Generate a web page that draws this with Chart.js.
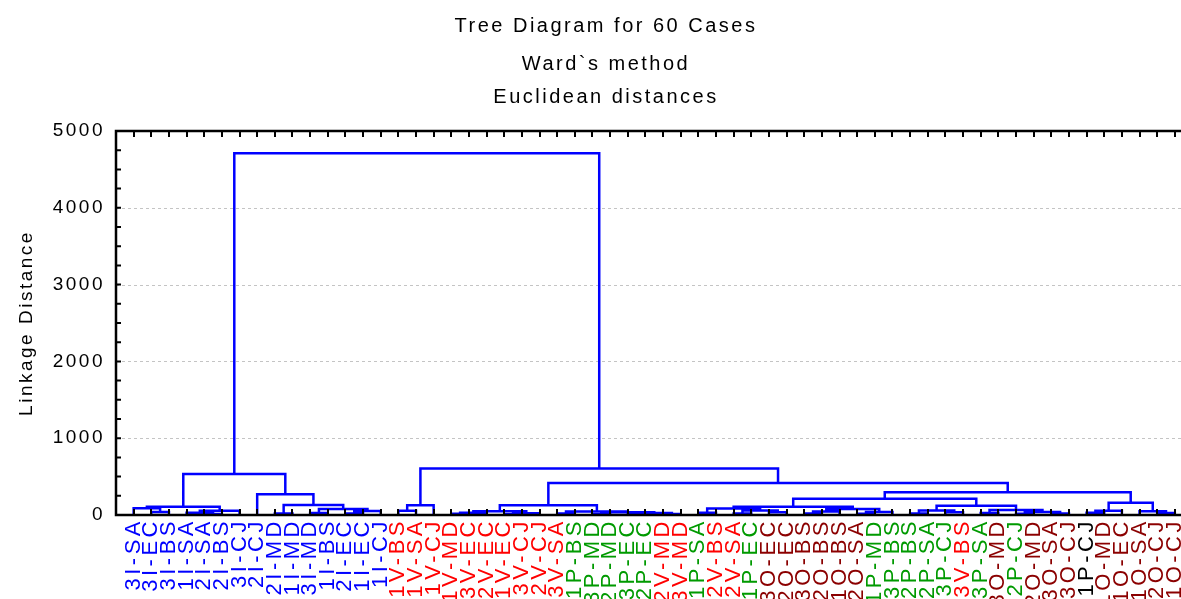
<!DOCTYPE html>
<html><head><meta charset="utf-8">
<script src="https://cdn.jsdelivr.net/npm/chart.js@4.4.0/dist/chart.umd.min.js"></script>
<style>html,body{margin:0;padding:0;background:#fff;overflow:hidden}</style>
</head><body>
<canvas id="c" width="1181" height="599"></canvas>
<script>
// ---- data ----
const titleLines = ["Tree Diagram for 60 Cases", "Ward`s method", "Euclidean distances"];
const yAxisTitle = "Linkage Distance";
const yTickValues = [0, 1000, 2000, 3000, 4000, 5000];

// leaves in dendrogram order (left to right)
const leafLabels = [
  "3I-SA","3I-EC","3I-BS","1I-SA","2I-SA","2I-BS","3I-CJ","2I-CJ","2I-MD","1I-MD",
  "3I-MD","1I-BS","2I-EC","1I-EC","1I-CJ","1V-BS","1V-SA","1V-CJ","1V-MD","3V-EC",
  "2V-EC","1V-EC","3V-CJ","2V-CJ","3V-SA","1P-BS","3P-MD","2P-MD","3P-EC","2P-EC",
  "2V-MD","3V-MD","1P-SA","2V-BS","2V-SA","1P-EC","3O-EC","2O-EC","3O-BS","2O-BS",
  "1O-BS","2O-SA","1P-MD","3P-BS","2P-BS","2P-SA","3P-CJ","3V-BS","3P-SA","3O-MD",
  "2P-CJ","2O-MD","3O-SA","3O-CJ","1P-CJ","1O-MD","1O-EC","1O-SA","2O-CJ","1O-CJ"
];
// label colour group per leaf: I = blue, V = red, P = green, O = dark red, K = black
const leafGroups = [
  "I","I","I","I","I","I","I","I","I","I","I","I","I","I","I",
  "V","V","V","V","V","V","V","V","V","V",
  "P","P","P","P","P",
  "V","V","P","V","V","P",
  "O","O","O","O","O","O",
  "P","P","P","P","P","V","P","O","P","O","O","O","K","O","O","O","O","O"
];
// merge table (R hclust convention): negative = leaf number (display order),
// positive = row number of an earlier merge
const mergeLeft = [
  -2, -1, -5, -4,  4,  2, -9, -11, -13,  9,
   8,  7, -8, 6, -16, 15, -19, 17, -22, 19,
  18, -25, -27, -29, -31, 24, 23, 22, 21, -33,
  -35, -37, 31, 30, -39, 35, -42, 37, 36, 34,
  -45, -47, 41, -49, -51, -53, 45, 44, 43, 40,
  -55, 51, -59, -58, 52, 50, 29, 16, 14
];
const mergeRight = [
  -3,  1, -6,  3, -7,  5, -10, -12, -14, -15,
  10, 11, 12, 13, -17, -18, -20, -21, -23, -24,
  20, -26, -28, -30, -32, 25, 26, 27, 28, -34,
  -36, -38, 32, 33, -40, -41, -43, -44, 38, 39,
  -46, -48, 42, -50, -52, -54, 46, 47, 48, 49,
  -56, -57, -60, 53, 54, 55, 56, 57, 58
];
const mergeHeight = [
   40,  87,  12,  30,  55, 108,  18,  25,  20,  52,
   78, 130, 269, 534,  55, 126,  15,  30,  10,  22,
   50,  20,  10,   8,  12,  25,  35,  45, 126,  30,
   20,  35,  60,  85,  20,  45,  15,  40,  78, 108,
   20,  35,  60,  25,  15,  20,  40,  65, 121, 212,
   30,  55,  25,  50, 160, 295, 417, 605, 4710
];

const groupColors = { I: "#0000ff", V: "#ff0000", P: "#009a00", O: "#8b0000", K: "#000000" };
const FONT = '"Liberation Sans", Arial, sans-serif';

// ---- build dendrogram segments from the merge table ----
const nodeX = [], nodeY = [];
function xOf(id) { return id < 0 ? -id : nodeX[id - 1]; }
function yOf(id) { return id < 0 ? 0 : nodeY[id - 1]; }
const segPoints = [];
for (let k = 0; k < mergeHeight.length; k++) {
  const a = mergeLeft[k], b = mergeRight[k], h = mergeHeight[k];
  const xa = xOf(a), xb = xOf(b);
  nodeX.push((xa + xb) / 2);
  nodeY.push(h);
  segPoints.push({x: xa, y: yOf(a)}, {x: xa, y: h}, {x: xb, y: h}, {x: xb, y: yOf(b)}, {x: xb, y: null});
}

const decorPlugin = {
  id: 'decor',
  beforeDraw(chart) {
    chart.ctx.letterSpacing = '2.5px';
  },
  beforeDatasetsDraw(chart) {
    const {ctx, chartArea: ca, scales: {y}} = chart;
    ctx.save();
    ctx.strokeStyle = '#c4c4c4';
    ctx.lineWidth = 1;
    ctx.setLineDash([3, 3]);
    [1000, 2000, 3000, 4000].forEach(v => {
      const py = Math.round(y.getPixelForValue(v)) + 0.5;
      ctx.beginPath(); ctx.moveTo(ca.left, py); ctx.lineTo(chart.width, py); ctx.stroke();
    });
    ctx.restore();
  },
  afterDatasetsDraw(chart) {
    const {ctx, chartArea: ca, scales: {x, y}} = chart;
    ctx.save();
    ctx.strokeStyle = '#000';
    ctx.lineWidth = 2.5;
    ctx.beginPath();
    ctx.moveTo(chart.width, ca.top); ctx.lineTo(ca.left, ca.top);
    ctx.lineTo(ca.left, ca.bottom); ctx.lineTo(chart.width, ca.bottom);
    ctx.stroke();
    ctx.lineWidth = 2;
    ctx.beginPath();
    for (let v = 250; v < 5000; v += 250) {
      const py = y.getPixelForValue(v);
      ctx.moveTo(ca.left, py); ctx.lineTo(ca.left + 5, py);
    }
    for (let i = 1; i <= leafLabels.length; i++) {
      const px = Math.round(x.getPixelForValue(i));
      ctx.moveTo(px, ca.bottom); ctx.lineTo(px, ca.bottom - 6);
      ctx.moveTo(px, ca.top); ctx.lineTo(px, ca.top + 6);
    }
    ctx.stroke();
    ctx.restore();
    // x tick labels (z:1 layer) are drawn after this with wider spacing
    ctx.letterSpacing = '3.5px';
  },
  afterDraw(chart) {
    const ctx = chart.ctx;
    ctx.save();
    ctx.letterSpacing = '2.5px';
    ctx.fillStyle = '#000';
    ctx.font = '20px ' + FONT;
    ctx.textAlign = 'center';
    ctx.textBaseline = 'middle';
    const ys = [26, 64, 97];
    titleLines.forEach((t, i) => ctx.fillText(t, 606, ys[i]));
    ctx.restore();
  }
};

new Chart(document.getElementById('c'), {
  type: 'scatter',
  data: {
    datasets: [{
      data: segPoints,
      showLine: true,
      spanGaps: false,
      borderColor: '#0000ff',
      borderWidth: 2.5,
      pointRadius: 0,
      pointHoverRadius: 0,
      tension: 0,
      clip: false
    }]
  },
  options: {
    responsive: false,
    animation: false,
    events: [],
    layout: { padding: { top: 131, left: 0, right: 0, bottom: 0 } },
    plugins: { legend: { display: false }, tooltip: { enabled: false }, title: { display: false } },
    scales: {
      x: {
        type: 'linear', min: 0, max: 60.35,
        afterFit(s) { s.height = 84; s.paddingLeft = 0; s.paddingRight = 0; },
        afterBuildTicks(s) { s.ticks = leafLabels.map((_, i) => ({ value: i + 1 })); },
        grid: { display: false, drawTicks: false },
        border: { display: false },
        ticks: {
          z: 1,
          autoSkip: false, minRotation: 90, maxRotation: 90, padding: 3,
          font: { family: FONT, size: 22 },
          color: c => groupColors[leafGroups[c.index]] || '#000',
          callback: (v, i) => leafLabels[i]
        }
      },
      y: {
        min: 0, max: 5000,
        afterFit(s) { s.width = 116; s.paddingTop = 0; s.paddingBottom = 0; },
        afterBuildTicks(s) { s.ticks = yTickValues.map(v => ({ value: v })); },
        grid: { display: false, drawTicks: false },
        border: { display: false },
        ticks: { padding: 11, color: '#000', font: { family: FONT, size: 19 }, callback: v => String(v) },
        title: { display: true, text: yAxisTitle, color: '#000', font: { family: FONT, size: 19 }, padding: { top: 15, bottom: 0 } }
      }
    }
  },
  plugins: [decorPlugin]
});
</script>
</body></html>
